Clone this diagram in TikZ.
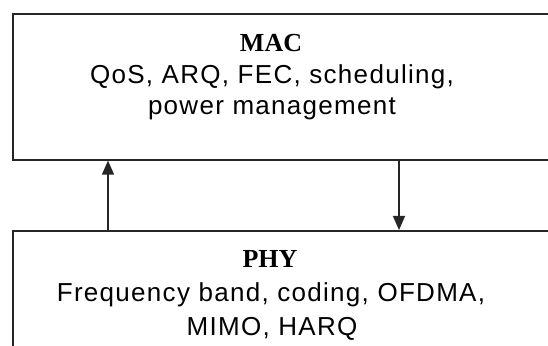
\documentclass[tikz,border=0pt]{standalone}
\usepackage{fontspec}
\setmainfont{Liberation Serif}
\newfontfamily\bodyfont[LetterSpace=5]{Liberation Sans}
\usetikzlibrary{arrows.meta}
\begin{document}
\begin{tikzpicture}[x=1pt,y=1pt,
  layerbox/.style={draw=black!85, line width=1.6pt, fill=white, inner sep=0pt, anchor=north west},
  title/.style={font=\fontsize{26}{30}\selectfont\bfseries, anchor=base, inner sep=0pt},
  body/.style={font=\fontsize{26}{31}\selectfont\bodyfont, anchor=base, inner sep=0pt},
  link/.style={line width=1.3pt, draw=black!85, -{Triangle[length=14pt,width=12pt]}}]
\useasboundingbox (0,0) rectangle (548,345);
\clip (0,0) rectangle (548,345);
\fill[white] (0,0) rectangle (548,345);
\node[layerbox, minimum width=700pt, minimum height=146pt] (mac) at (12,332) {};
\node[layerbox, minimum width=700pt, minimum height=160pt] (phy) at (12,115) {};
\node[title] (mactitle) at (271,293) {MAC};
\node[body] (macl1) at (272,261) {QoS, ARQ, FEC, scheduling,};
\node[body] (macl2) at (272,230) {power management};
\node[title] (phytitle) at (270,77) {PHY};
\node[body] (phyl1) at (271,43) {Frequency band, coding, OFDMA,};
\node[body] (phyl2) at (272,10) {MIMO, HARQ};
\coordinate (upx) at (108,0);
\coordinate (downx) at (399,0);
\draw[link] (phy.north -| upx) -- (mac.south -| upx);
\draw[link] (mac.south -| downx) -- (phy.north -| downx);
\end{tikzpicture}
\end{document}
